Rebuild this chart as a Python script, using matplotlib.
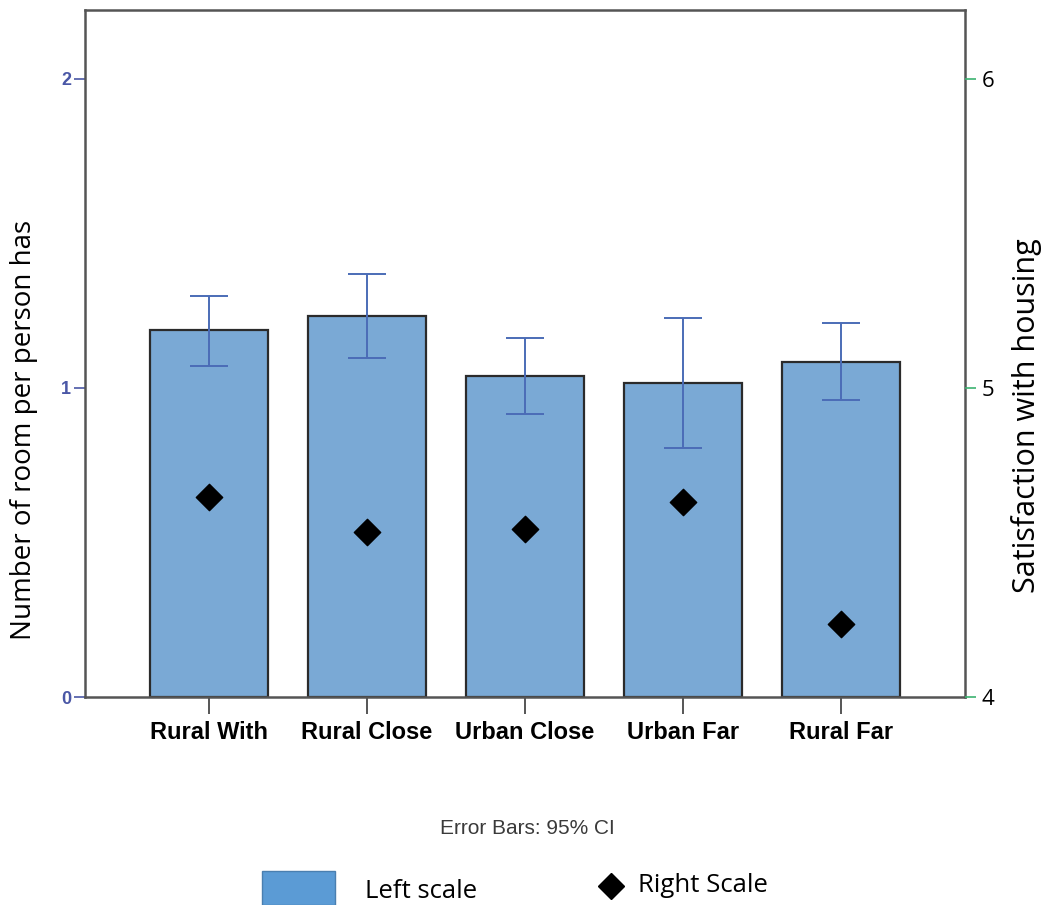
import matplotlib
matplotlib.use("Agg")
import matplotlib.pyplot as plt
from matplotlib.patches import Rectangle
from matplotlib.lines import Line2D
import numpy as np

# Group labels and summary statistics
categories = ["Rural With", "Rural Close", "Urban Close", "Urban Far", "Rural Far"]
rooms_mean = [1.187, 1.231, 1.038, 1.014, 1.085]
rooms_ci_low = [1.071, 1.096, 0.915, 0.804, 0.960]
rooms_ci_high = [1.298, 1.369, 1.161, 1.227, 1.209]
satisfaction_mean = [4.647, 4.534, 4.544, 4.631, 4.236]

left_ticks = [0, 1, 2]
right_ticks = [4, 5, 6]

bar_color = "#7aa9d5"
err_color = "#4b6cb7"
left_tick_color = "#4a57a6"
right_tick_color = "#3cb371"

W, H = 1046, 905
fig = plt.figure(figsize=(W / 100, H / 100), dpi=100)
ax = fig.add_axes([85 / W, 208 / H, 880 / W, 687 / H])

x = np.arange(len(categories))
means = np.array(rooms_mean)
yerr = np.vstack([means - np.array(rooms_ci_low), np.array(rooms_ci_high) - means])

ax.bar(x, means, width=0.75, color=bar_color, edgecolor="#2b2b2b", linewidth=1.6, zorder=2)
ax.errorbar(x, means, yerr=yerr, fmt="none", ecolor=err_color, elinewidth=1.4,
            capsize=13.5, capthick=1.4, zorder=3)

ax.set_xlim(-0.785, len(categories) - 1 + 0.785)
ax.set_ylim(0, 2.222)
ax.set_xticks(x)
ax.set_xticklabels(categories, fontsize=17, fontweight="bold", family="Liberation Sans")
ax.tick_params(axis="x", length=12, width=1.4, color="#555555", pad=5)
ax.set_yticks(left_ticks)
ax.set_yticklabels([str(t) for t in left_ticks], fontsize=13, fontweight="bold",
                   color=left_tick_color, family="Liberation Sans")
ax.tick_params(axis="y", length=8, width=1.2, color=left_tick_color, pad=2)
ax.set_ylabel("Number of room per person has", fontsize=20, family="Open Sans",
              va="center")
ax.yaxis.set_label_coords((24 - 85) / 880, (697 - 430) / 687)

for sp in ax.spines.values():
    sp.set_color("#555555")
    sp.set_linewidth(1.8)

ax2 = ax.twinx()
ax2.set_ylim(4, 4 + 2.222)
ax2.scatter(x, satisfaction_mean, marker="D", s=180, color="black", zorder=4)
ax2.set_yticks(right_ticks)
ax2.set_yticklabels([str(t) for t in right_ticks], fontsize=16, family="Open Sans")
ax2.tick_params(axis="y", length=8, width=1.2, color=right_tick_color, pad=4)
ax2.set_ylabel("Satisfaction with housing", fontsize=22, family="Open Sans",
               va="center", rotation=90)
ax2.yaxis.set_label_coords((1027 - 85) / 880, (697 - 416) / 687)
for sp in ax2.spines.values():
    sp.set_visible(False)

fig.text(527 / W, 1 - 828 / H, "Error Bars: 95% CI", ha="center", va="center",
         fontsize=15, color="#3a3a3a", family=["Liberation Sans Narrow", "Liberation Sans"])

# Legend entries drawn in figure coordinates
fig.patches.append(Rectangle((262 / W, 0), 73 / W, 34 / H,
                             transform=fig.transFigure, facecolor="#5b9bd5",
                             edgecolor="#4a7fb0", linewidth=1))
fig.text(365 / W, 1 - 891 / H, "Left scale", ha="left", va="center",
         fontsize=18.5, family="Open Sans")
fig.lines.append(Line2D([611 / W], [1 - 886 / H], transform=fig.transFigure,
                        marker="D", markersize=13.5, color="black", linestyle="none"))
fig.text(638 / W, 1 - 885 / H, "Right Scale", ha="left", va="center",
         fontsize=18.5, family="Open Sans")

fig.savefig("out.png", dpi=100)
